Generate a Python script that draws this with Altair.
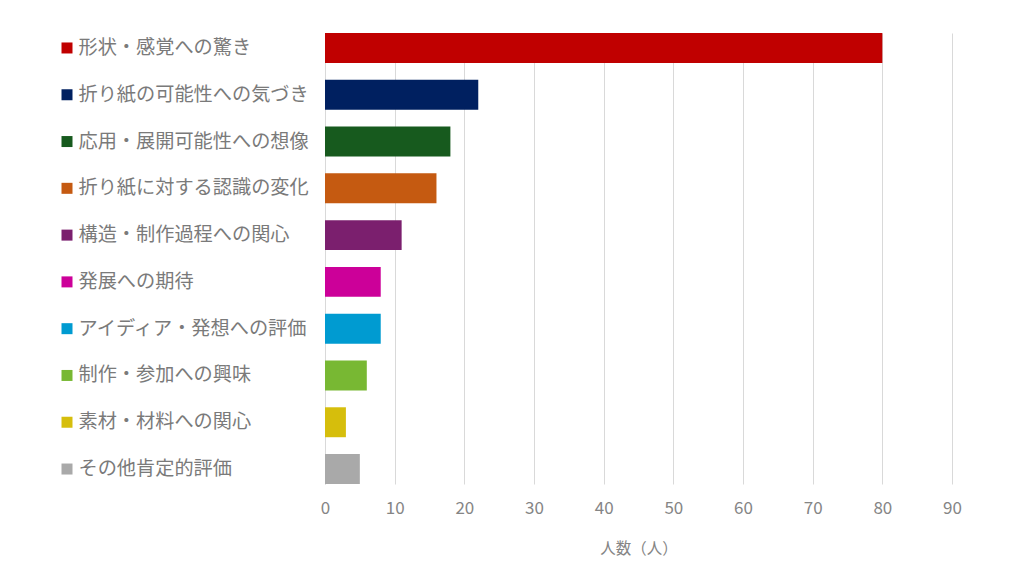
import altair as alt
import pandas as pd

categories = [
    "形状・感覚への驚き",
    "折り紙の可能性への気づき",
    "応用・展開可能性への想像",
    "折り紙に対する認識の変化",
    "構造・制作過程への関心",
    "発展への期待",
    "アイディア・発想への評価",
    "制作・参加への興味",
    "素材・材料への関心",
    "その他肯定的評価",
]
values = [80, 22, 18, 16, 11, 8, 8, 6, 3, 5]
colors = [
    "#C00000", "#002060", "#175A1E", "#C55A11", "#7B1F6E",
    "#CC0099", "#009BD1", "#78B833", "#D6BE0C", "#A9A9A9",
]
x_ticks = [0, 10, 20, 30, 40, 50, 60, 70, 80, 90]

df = pd.DataFrame({"category": categories, "value": values})

font = "Noto Sans CJK JP"

y_enc = alt.Y(
    "category:N",
    sort=categories,
    scale=alt.Scale(paddingInner=0.36, paddingOuter=0),
    axis=alt.Axis(
        title=None,
        labelAlign="left",
        labelPadding=247,
        labelFont=font,
        labelFontSize=19.2,
        labelColor="#7a7a7a",
        labelLimit=400,
        ticks=False,
        domain=True,
        domainColor="#d9d9d9",
        domainWidth=1,
        grid=False,
    ),
)
color_enc = alt.Color(
    "category:N",
    scale=alt.Scale(domain=categories, range=colors),
    legend=None,
)

bars = alt.Chart(df).mark_bar().encode(
    x=alt.X(
        "value:Q",
        scale=alt.Scale(domain=[0, 90], nice=False),
        axis=alt.Axis(
            title="人数（人）",
            values=x_ticks,
            grid=True,
            gridColor="#d9d9d9",
            domain=False,
            ticks=False,
            labelFlush=False,
            labelFont=font,
            labelFontSize=17,
            labelColor="#858585",
            labelPadding=16,
            titleFont=font,
            titleFontSize=15.5,
            titleFontWeight="normal",
            titleColor="#858585",
            titlePadding=25,
        ),
    ),
    y=y_enc,
    color=color_enc,
)

squares = alt.Chart(df).mark_square(size=121, opacity=1).encode(
    x=alt.value(-258),
    y=y_enc,
    color=color_enc,
)

chart = (
    alt.layer(bars, squares)
    .properties(
        width=627,
        height=451,
        autosize=alt.AutoSizeParams(type="none"),
        padding={"left": 317, "top": 25, "right": 50, "bottom": 80},
    )
    .configure_view(stroke=None)
)

chart.save("out.html", embed_options={"renderer": "svg", "actions": False})
